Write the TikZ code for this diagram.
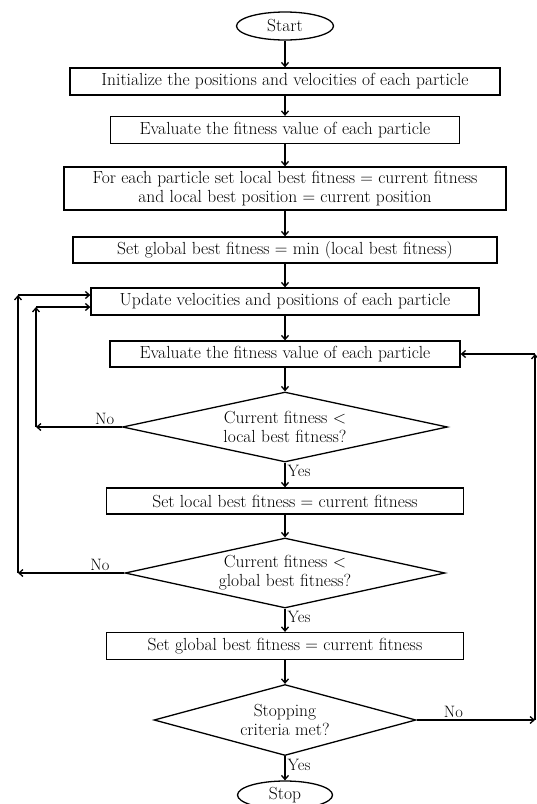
\documentclass[tikz,border=0pt]{standalone}
\usetikzlibrary{shapes.geometric,arrows.meta,positioning}
\begin{document}
\begin{tikzpicture}[x=1pt, y=-1pt,
  every node/.style = {font=\fontsize{17.5}{19}\selectfont, align=center},
  proc/.style   = {draw, line width=1.3pt, rectangle,
    minimum height=27pt, inner sep=0pt},
  term/.style   = {draw, line width=1.3pt, ellipse,
    minimum width=97pt, minimum height=28pt, inner sep=0pt},
  decide/.style = {draw, line width=1.3pt, diamond, inner sep=0pt},
  arr/.style    = {line width=1.3pt, -{Straight Barb[length=4pt,width=7pt]}},
  lbl/.style    = {font=\fontsize{16.5}{18}\selectfont, inner sep=2pt}]
\useasboundingbox (0,0) rectangle (537,804);
\node[term] (start) at (285,26) {Start};
\node[proc, minimum width=430pt] (init) at (285,81.5)
  {Initialize the positions and velocities of each particle};
\node[proc, minimum width=349pt] (eval) at (285,130)
  {Evaluate the fitness value of each particle};
\node[proc, minimum width=442pt, minimum height=43pt] (setlocal) at (285,188.5)
  {For each particle set local best fitness = current fitness\\
   and local best position = current position};
\node[proc, minimum width=424pt, minimum height=26pt] (setglobal) at (285,250)
  {Set global best fitness = min (local best fitness)};
\node[proc, minimum width=388pt] (update) at (285,301.5)
  {Update velocities and positions of each particle};
\node[proc, minimum width=350pt, minimum height=26pt] (reeval) at (285,354)
  {Evaluate the fitness value of each particle};
\node[decide, aspect=4.6, minimum width=325pt, minimum height=70pt] (cmplocal) at (285,427)
  {Current fitness <\\local best fitness?};
\node[proc, minimum width=357pt, minimum height=26pt] (newlocal) at (285,501)
  {Set local best fitness = current fitness};
\node[decide, aspect=4.6, minimum width=320pt, minimum height=70pt] (cmpglobal) at (285,573)
  {Current fitness <\\global best fitness?};
\node[proc, minimum width=357pt] (newglobal) at (285,646)
  {Set global best fitness = current fitness};
\node[decide, aspect=3.7, minimum width=262pt, minimum height=71pt] (stopcrit) at (285,720)
  {Stopping\\criteria met?};
\node[term, minimum width=95pt] (stop) at (285,795) {Stop};
% loop corners
\coordinate (innerlow) at (36,427);
\coordinate (innertop) at (36,307);
\coordinate (outerlow) at (18,573);
\coordinate (outertop) at (18,295);
\coordinate (rightlow) at (535,720);
\coordinate (righttop) at (535,354);
% main line
\draw[arr] (start) -- (init);
\draw[arr] (init) -- (eval);
\draw[arr] (eval) -- (setlocal);
\draw[arr] (setlocal) -- (setglobal);
\draw[arr] (setglobal) -- (update);
\draw[arr] (update) -- (reeval);
\draw[arr] (reeval) -- (cmplocal);
\draw[arr] (cmplocal) -- node[lbl, right, pos=0.35]{Yes} (newlocal);
\draw[arr] (newlocal) -- (cmpglobal);
\draw[arr] (cmpglobal) -- node[lbl, right, pos=0.35]{Yes} (newglobal);
\draw[arr] (newglobal) -- (stopcrit);
\draw[arr] (stopcrit) -- node[lbl, right, pos=0.35]{Yes} (stop);
% loops back
\draw[arr] (cmplocal.west) -- node[lbl, above, pos=0.2]{No} (innerlow);
\draw[arr] (innerlow) -- (innertop);
\draw[arr] (innertop) -- (innertop -| update.west);
\draw[arr] (cmpglobal.west) -- node[lbl, above, pos=0.23]{No} (outerlow);
\draw[arr] (outerlow) -- (outertop);
\draw[arr] (outertop) -- (outertop -| update.west);
\draw[arr] (stopcrit.east) -- node[lbl, above, pos=0.31]{No} (rightlow);
\draw[arr] (rightlow) -- (righttop);
\draw[arr] (righttop) -- (reeval.east);
\end{tikzpicture}
\end{document}
